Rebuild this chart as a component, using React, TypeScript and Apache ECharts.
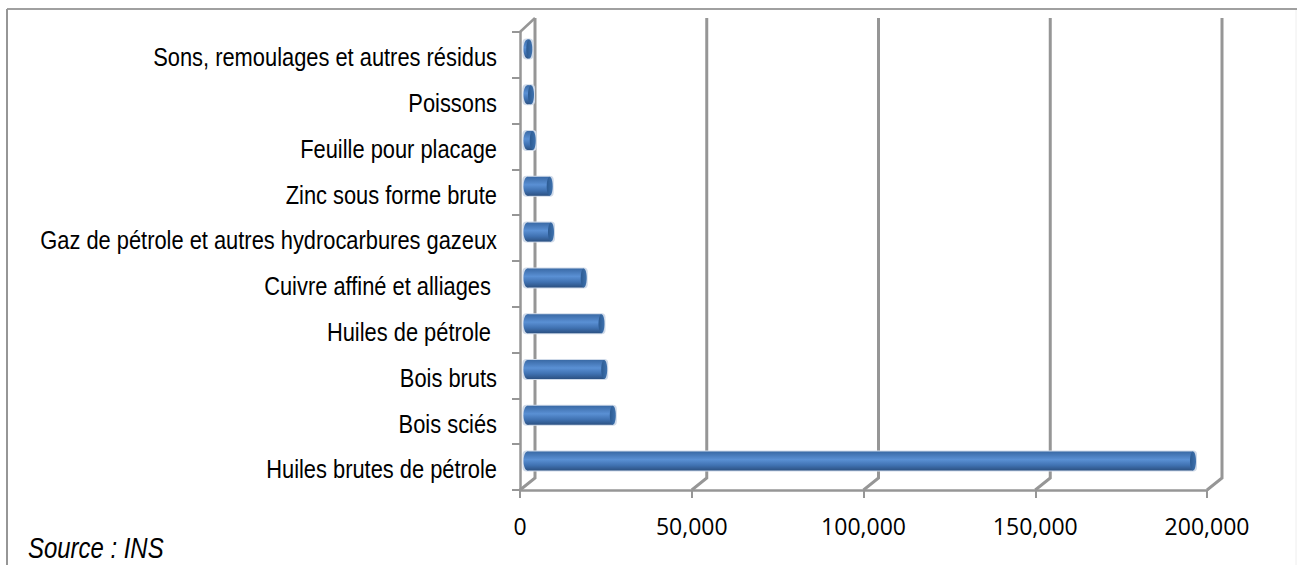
import React, { useEffect, useRef } from "react";
import * as echarts from "echarts";

const categories = [
  "Huiles brutes de pétrole",
  "Bois sciés",
  "Bois bruts",
  "Huiles de pétrole ",
  "Cuivre affiné et alliages ",
  "Gaz de pétrole et autres hydrocarbures gazeux",
  "Zinc sous forme brute",
  "Feuille pour placage",
  "Poissons",
  "Sons, remoulages et autres résidus",
];
const values = [193450, 24540, 22040, 21250, 16070, 6550, 6170, 1240, 730, 230];
const wallTicks = [0, 50000, 100000, 150000, 200000];
const sourceText = "Source : INS";

const GRAY = "#969696";
const DEPTH_X = 15;
const BAR_DX = 7.5;
const BAR_DY = -6;
const BAR_H = 19;
const LEFT_RX = 4;
const CAP_RX = 3;
const NARROW = 0.825;

export default function App() {
  const ref = useRef<HTMLDivElement>(null);
  useEffect(() => {
    const chart = echarts.init(ref.current!, null, { renderer: "svg" });
    chart.setOption({
      animation: false,
      backgroundColor: "#fff",
      grid: { left: 520, top: 32, width: 687, height: 458, containLabel: false },
      xAxis: {
        type: "value",
        min: 0,
        max: 200000,
        interval: 50000,
        axisLine: { show: true, lineStyle: { color: GRAY, width: 2.5 } },
        axisTick: { show: true, length: 8, lineStyle: { color: GRAY, width: 2 } },
        splitLine: { show: false },
        axisLabel: {
          margin: 24,
          color: "#000",
          fontFamily: "Open Sans",
          fontSize: 23,
          formatter: (v: number) => v.toLocaleString("en-US"),
        },
      },
      yAxis: {
        type: "category",
        data: categories,
        axisLine: { show: true, lineStyle: { color: GRAY, width: 2.5 } },
        axisTick: { show: true, length: 8, lineStyle: { color: GRAY, width: 2 } },
        splitLine: { show: false },
        axisLabel: { show: false },
      },
      series: [
        {
          type: "custom",
          silent: true,
          z: 1,
          coordinateSystem: "cartesian2d",
          data: wallTicks.map((t) => [t, 0]),
          renderItem: (params: any, api: any) => {
            const v = api.value(0);
            const [x] = api.coord([v, 0]);
            const children: any[] = [
              {
                type: "polyline",
                shape: { points: [[x, 490], [x + DEPTH_X, 478], [x + DEPTH_X, 18]] },
                style: { stroke: GRAY, lineWidth: 3, fill: "none" },
              },
            ];
            if (v === 0) {
              children.push({
                type: "line",
                shape: { x1: x, y1: 32, x2: x + DEPTH_X, y2: 18 },
                style: { stroke: GRAY, lineWidth: 2.5 },
              });
            }
            return { type: "group", children };
          },
        },
        {
          type: "custom",
          z: 3,
          coordinateSystem: "cartesian2d",
          encode: { x: 0, y: 1 },
          data: values.map((v, i) => [v, i]),
          renderItem: (params: any, api: any) => {
            const [x1, yc0] = api.coord([api.value(0), api.value(1)]);
            const [x0] = api.coord([0, api.value(1)]);
            const yc = yc0 + BAR_DY;
            const l = x0 + BAR_DX;
            const r = x1 + BAR_DX + (LEFT_RX - CAP_RX);
            const body = new echarts.graphic.LinearGradient(0, 0, 0, 1, [
              { offset: 0, color: "#3a6aa6" },
              { offset: 0.15, color: "#4577b6" },
              { offset: 0.42, color: "#5a90d4" },
              { offset: 0.72, color: "#4072b2" },
              { offset: 1, color: "#2c5182" },
            ]);
            const cap = new echarts.graphic.LinearGradient(0, 0, 1, 0, [
              { offset: 0, color: "#2b5a92" },
              { offset: 1, color: "#3f72ae" },
            ]);
            return {
              type: "group",
              children: [
                {
                  type: "rect",
                  shape: {
                    x: l - LEFT_RX - 1,
                    y: yc - BAR_H / 2 - 1,
                    width: r - l + LEFT_RX + CAP_RX + 2,
                    height: BAR_H + 2,
                    r: 4,
                  },
                  style: { fill: "#cfdae9" },
                },
                { type: "ellipse", shape: { cx: l, cy: yc, rx: LEFT_RX, ry: BAR_H / 2 }, style: { fill: body } },
                {
                  type: "rect",
                  shape: { x: l, y: yc - BAR_H / 2, width: Math.max(r - l, 0), height: BAR_H },
                  style: { fill: body },
                },
                { type: "ellipse", shape: { cx: r, cy: yc, rx: CAP_RX, ry: BAR_H / 2 }, style: { fill: cap } },
              ],
            };
          },
        },
        {
          type: "custom",
          silent: true,
          z: 4,
          clip: false,
          coordinateSystem: "cartesian2d",
          data: categories.map((c, i) => [0, i]),
          renderItem: (params: any, api: any) => {
            const [, y] = api.coord([0, api.value(1)]);
            return {
              type: "text",
              x: 497,
              y: y + 2,
              scaleX: NARROW,
              style: {
                text: categories[params.dataIndex],
                font: "26.5px 'Liberation Sans'",
                fill: "#000",
                align: "right",
                verticalAlign: "middle",
              },
            };
          },
        },
      ],
      graphic: [
        { type: "line", shape: { x1: 7, y1: 9, x2: 1297, y2: 9 }, style: { stroke: "#808080", lineWidth: 1.5 } },
        { type: "line", shape: { x1: 7, y1: 9, x2: 7, y2: 565 }, style: { stroke: GRAY, lineWidth: 2 } },
        { type: "line", shape: { x1: 1296, y1: 10, x2: 1296, y2: 565 }, style: { stroke: "#eeeeee", lineWidth: 1 } },
        {
          type: "text",
          x: 28,
          y: 548,
          scaleX: NARROW,
          style: {
            text: sourceText,
            fill: "#000",
            font: "italic 29px 'Liberation Sans'",
            verticalAlign: "middle",
          },
        },
      ],
    });
    return () => chart.dispose();
  }, []);
  return (
    <div
      ref={ref}
      style={{ position: "absolute", left: 0, top: 0, width: 1297, height: 565 }}
    />
  );
}
